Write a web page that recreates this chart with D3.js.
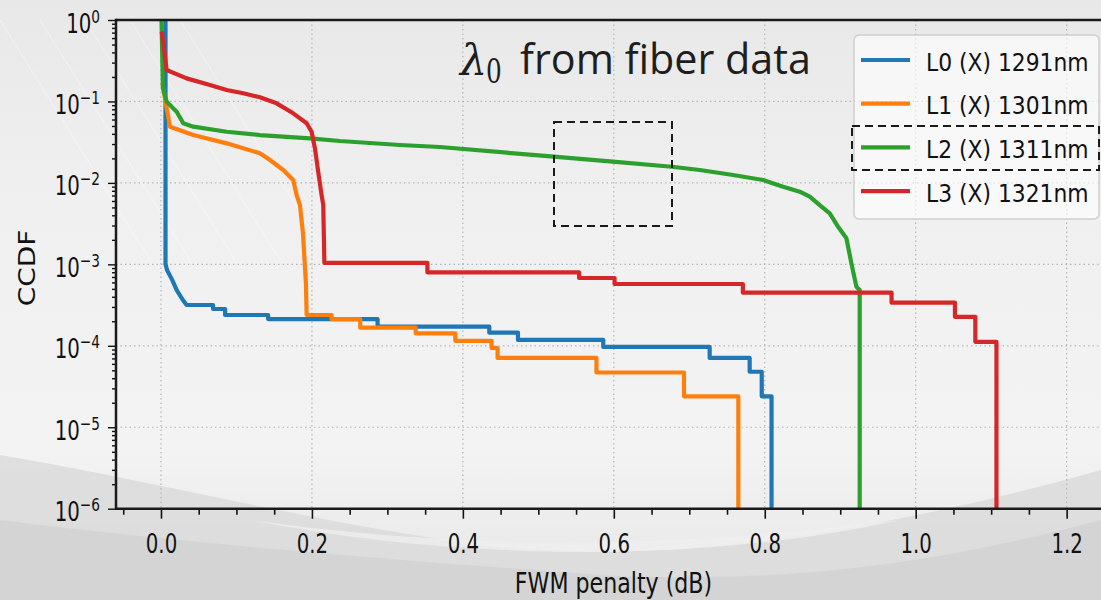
<!DOCTYPE html>
<html>
<head>
<meta charset="utf-8">
<script src="https://cdn.jsdelivr.net/npm/d3@7"></script>
<style>
  html, body { margin: 0; padding: 0; background: #ededed; }
  svg { display: block; }
</style>
</head>
<body>
<svg id="chart" width="1101" height="600"></svg>
<script>
// ---------------- DATA ----------------
const seriesNames = ["L0 (X) 1291nm", "L1 (X) 1301nm", "L2 (X) 1311nm", "L3 (X) 1321nm"];
const seriesColors = ["#1f77b4", "#ff7f0e", "#2ca02c", "#d62728"];

// L0 (blue)
const l0Penalty = [0.006, 0.006, 0.008, 0.015, 0.021, 0.029, 0.034, 0.069, 0.069, 0.085, 0.085, 0.142, 0.142, 0.287, 0.287, 0.435, 0.435, 0.473, 0.473, 0.586, 0.586, 0.727, 0.727, 0.780, 0.780, 0.796, 0.796, 0.809, 0.809];
const l0Ccdf    = [1, 1.01e-3, 8.5e-4, 6.4e-4, 4.8e-4, 3.65e-4, 3.17e-4, 3.17e-4, 2.83e-4, 2.83e-4, 2.39e-4, 2.39e-4, 2.13e-4, 2.13e-4, 1.72e-4, 1.72e-4, 1.45e-4, 1.45e-4, 1.18e-4, 1.18e-4, 9.7e-5, 9.7e-5, 7.1e-5, 7.1e-5, 4.8e-5, 4.8e-5, 2.4e-5, 2.4e-5, 1e-7];

// L1 (orange)
const l1Penalty = [0.002, 0.003, 0.0119, 0.0428, 0.087, 0.1311, 0.1444, 0.162, 0.1752, 0.1797, 0.1841, 0.1881, 0.192, 0.193, 0.226, 0.226, 0.264, 0.264, 0.3375, 0.3375, 0.390, 0.390, 0.438, 0.438, 0.446, 0.446, 0.577, 0.577, 0.693, 0.693, 0.765, 0.765];
const l1Ccdf    = [0.17, 0.145, 0.049, 0.0387, 0.0306, 0.0231, 0.0191, 0.0144, 0.01086, 0.0071, 0.00535, 0.00243, 0.00059, 2.39e-4, 2.39e-4, 2.13e-4, 2.13e-4, 1.67e-4, 1.67e-4, 1.42e-4, 1.42e-4, 1.15e-4, 1.15e-4, 9.4e-5, 9.4e-5, 7.1e-5, 7.1e-5, 4.7e-5, 4.7e-5, 2.4e-5, 2.4e-5, 1e-7];

// L2 (green)
const l2Penalty = [0.0007, 0.0026, 0.0075, 0.0208, 0.0295, 0.0428, 0.087, 0.131, 0.1974, 0.237, 0.3166, 0.3695, 0.5205, 0.5987, 0.6768, 0.7139, 0.758, 0.7977, 0.8243, 0.8464, 0.8596, 0.8728, 0.8861, 0.8971, 0.9082, 0.9148, 0.9214, 0.9258, 0.9258];
const l2Ccdf    = [1, 0.146, 0.0993, 0.0748, 0.054, 0.049, 0.0425, 0.0387, 0.0353, 0.0327, 0.0292, 0.0276, 0.021, 0.0182, 0.0158, 0.0144, 0.0125, 0.01086, 0.00898, 0.0078, 0.00677, 0.00535, 0.00423, 0.0029, 0.00209, 0.00103, 0.000532, 0.000484, 1e-7];

// L3 (red)
const l3Penalty = [0.001, 0.0075, 0.034, 0.0649, 0.087, 0.109, 0.1311, 0.1532, 0.1752, 0.193, 0.1996, 0.204, 0.2083, 0.2128, 0.215, 0.2165, 0.353, 0.353, 0.554, 0.554, 0.601, 0.601, 0.771, 0.771, 0.968, 0.968, 1.052, 1.052, 1.079, 1.079, 1.107, 1.107];
const l3Ccdf    = [0.72, 0.243, 0.192, 0.159, 0.138, 0.126, 0.1124, 0.0948, 0.0715, 0.054, 0.0425, 0.0266, 0.01373, 0.0071, 0.00535, 0.00104, 0.00104, 7.98e-4, 7.98e-4, 6.8e-4, 6.8e-4, 5.74e-4, 5.74e-4, 4.49e-4, 4.49e-4, 3.38e-4, 3.38e-4, 2.27e-4, 2.27e-4, 1.12e-4, 1.12e-4, 1e-7];

const xTickValues = [0.0, 0.2, 0.4, 0.6, 0.8, 1.0, 1.2];
const xTickLabels = ["0.0", "0.2", "0.4", "0.6", "0.8", "1.0", "1.2"];
const yTickValues = [1, 1e-1, 1e-2, 1e-3, 1e-4, 1e-5, 1e-6];
const yTickExponents = ["0", "\u22121", "\u22122", "\u22123", "\u22124", "\u22125", "\u22126"];

const xLabel = "FWM penalty (dB)";
const yLabel = "CCDF";
const titleMain = "from fiber data";

// ---------------- DRAWING ----------------
(function draw() {
const svg = d3.select("#chart");
const W = 1101, H = 600;
const pL = 116, pT = 20, pB = 508.7, pR = 1112;

const x = d3.scaleLinear().domain([-0.0596, 1.2601]).range([pL, pR]);
const y = d3.scaleLog().domain([1e-6, 1]).range([pB, pT]);

const defs = svg.append("defs");
const bgGrad = defs.append("linearGradient").attr("id", "bg").attr("x1", 0).attr("y1", 0).attr("x2", 0).attr("y2", 1);
bgGrad.append("stop").attr("offset", "0").attr("stop-color", "#e8e8e8");
bgGrad.append("stop").attr("offset", "0.35").attr("stop-color", "#f0f0f0");
bgGrad.append("stop").attr("offset", "0.75").attr("stop-color", "#f3f3f3");
bgGrad.append("stop").attr("offset", "1").attr("stop-color", "#e6e6e6");
defs.append("clipPath").attr("id", "plotclip").append("rect")
  .attr("x", pL).attr("y", pT).attr("width", W - pL).attr("height", pB - pT);

// background
svg.append("rect").attr("width", W).attr("height", H).attr("fill", "url(#bg)");
svg.append("path")
  .attr("d", "M0,455 C150,480 300,520 480,545 C650,565 850,540 1101,470 L1101,600 L0,600 Z")
  .attr("fill", "#d9d9d9").attr("opacity", 0.8);
svg.append("path")
  .attr("d", "M0,520 C200,545 400,560 600,575 C800,585 950,560 1101,520 L1101,600 L0,600 Z")
  .attr("fill", "#cfcfcf").attr("opacity", 0.6);
svg.append("path")
  .attr("d", "M250,520 C450,548 650,552 900,520 C700,565 450,560 250,520 Z")
  .attr("fill", "#efefef").attr("opacity", 0.8);
const streaks = svg.append("g").attr("stroke", "#ffffff").attr("stroke-width", 1.2).attr("opacity", 0.35);
[0, 40, 85, 130, 180].forEach(o => {
  streaks.append("line").attr("x1", o).attr("y1", 20).attr("x2", o + 150).attr("y2", 260);
});

// grid
const grid = svg.append("g").attr("stroke", "#b5b5b5").attr("stroke-width", 1.2).attr("stroke-dasharray", "1.5,3");
xTickValues.forEach(v => grid.append("line").attr("x1", x(v)).attr("x2", x(v)).attr("y1", pT).attr("y2", pB));
yTickValues.forEach(v => grid.append("line").attr("x1", pL).attr("x2", W).attr("y1", y(v)).attr("y2", y(v)));

// series
const allSeries = [
  { name: seriesNames[0], color: seriesColors[0], xs: l0Penalty, ys: l0Ccdf },
  { name: seriesNames[1], color: seriesColors[1], xs: l1Penalty, ys: l1Ccdf },
  { name: seriesNames[2], color: seriesColors[2], xs: l2Penalty, ys: l2Ccdf },
  { name: seriesNames[3], color: seriesColors[3], xs: l3Penalty, ys: l3Ccdf }
];
const line = d3.line().x(d => x(d[0])).y(d => y(d[1]));
const lines = svg.append("g").attr("clip-path", "url(#plotclip)");
allSeries.forEach(s => {
  lines.append("path")
    .datum(s.xs.map((v, i) => [v, s.ys[i]]))
    .attr("d", line)
    .attr("fill", "none")
    .attr("stroke", s.color)
    .attr("stroke-width", 4.2)
    .attr("stroke-linejoin", "round");
});

// axes (ticks)
const xMinor = d3.range(-0.05, 1.26, 0.05).filter(v => !xTickValues.some(t => Math.abs(t - v) < 1e-6));
const xAxisMinor = d3.axisBottom(x).tickValues(xMinor).tickSize(6).tickFormat("");
const xAxisMajor = d3.axisBottom(x).tickValues(xTickValues).tickSize(10).tickFormat((d, i) => xTickLabels[i]);
const gxm = svg.append("g").attr("transform", `translate(0,${pB})`).call(xAxisMinor);
const gx = svg.append("g").attr("transform", `translate(0,${pB})`).call(xAxisMajor);
[gxm, gx].forEach(g => {
  g.select(".domain").remove();
  g.selectAll(".tick line").attr("stroke", "#111").attr("stroke-width", 1.6);
});
gx.selectAll(".tick text")
  .attr("y", 44).attr("dy", null)
  .attr("transform", "scale(0.76,1)")
  .attr("font-family", "DejaVu Sans").attr("font-size", 26).attr("fill", "#111");

const yMinor = [];
for (let e = -6; e < 0; e++) for (let k = 2; k <= 9; k++) yMinor.push(k * Math.pow(10, e));
const yAxisMinor = d3.axisLeft(y).tickValues(yMinor).tickSize(4).tickFormat("");
const yAxisMajor = d3.axisLeft(y).tickValues(yTickValues).tickSize(8).tickFormat("");
const gym = svg.append("g").attr("transform", `translate(${pL},0)`).call(yAxisMinor);
const gy = svg.append("g").attr("transform", `translate(${pL},0)`).call(yAxisMajor);
[gym, gy].forEach(g => {
  g.select(".domain").remove();
  g.selectAll(".tick line").attr("stroke", "#111").attr("stroke-width", 1.4);
});
yTickValues.forEach((v, i) => {
  const t = svg.append("text")
    .attr("transform", `translate(100,${y(v) + 12.5}) scale(0.76,1)`)
    .attr("text-anchor", "end")
    .attr("font-family", "DejaVu Sans").attr("fill", "#111");
  t.append("tspan").attr("font-size", 26).text("10");
  t.append("tspan").attr("font-size", 18).attr("dy", -10).text(yTickExponents[i]);
});

// spines
const spines = svg.append("g").attr("stroke", "#1a1a1a").attr("stroke-width", 2.5).attr("fill", "none");
spines.append("line").attr("x1", pL).attr("x2", W).attr("y1", pT).attr("y2", pT);
spines.append("line").attr("x1", pL).attr("x2", W).attr("y1", pB).attr("y2", pB);
spines.append("line").attr("x1", pL).attr("x2", pL).attr("y1", pT - 1.2).attr("y2", pB + 1.2);

// axis labels
svg.append("text")
  .attr("transform", `translate(613.5,592.5) scale(0.79,1)`)
  .attr("text-anchor", "middle")
  .attr("font-family", "DejaVu Sans").attr("font-size", 28).attr("fill", "#111")
  .text(xLabel);
svg.append("text")
  .attr("transform", `translate(35,268) rotate(-90) scale(1,0.8)`)
  .attr("text-anchor", "middle")
  .attr("font-family", "DejaVu Sans").attr("font-size", 28).attr("fill", "#111")
  .text(yLabel);

// legend
const lg = svg.append("g");
lg.append("rect")
  .attr("x", 854).attr("y", 35).attr("width", 245).attr("height", 184)
  .attr("rx", 5).attr("ry", 5)
  .attr("fill", "#ffffff").attr("fill-opacity", 0.6)
  .attr("stroke", "#cfcfcf").attr("stroke-width", 1.5);
allSeries.forEach((s, i) => {
  const cy = 60 + i * 43.7;
  lg.append("line").attr("x1", 861).attr("x2", 910).attr("y1", cy).attr("y2", cy)
    .attr("stroke", s.color).attr("stroke-width", 4.2);
  lg.append("text")
    .attr("transform", `translate(926,${cy + 10.7}) scale(0.91,1)`)
    .attr("font-family", "DejaVu Sans").attr("font-size", 24).attr("fill", "#111")
    .text(s.name);
});

// dashed highlight boxes
svg.append("rect").attr("x", 554).attr("y", 122).attr("width", 118).attr("height", 104)
  .attr("fill", "none").attr("stroke", "#1a1a1a").attr("stroke-width", 2).attr("stroke-dasharray", "8,5");
svg.append("rect").attr("x", 852).attr("y", 126).attr("width", 247).attr("height", 44)
  .attr("fill", "none").attr("stroke", "#1a1a1a").attr("stroke-width", 2).attr("stroke-dasharray", "8,5");

// title overlay
const title = svg.append("g").attr("fill", "#1e1e1e");
title.append("text").attr("x", 460).attr("y", 74.5)
  .attr("font-family", "DejaVu Serif").attr("font-style", "italic").attr("font-size", 43)
  .text("\u03bb");
title.append("text")
  .attr("transform", "translate(486,83) scale(0.75,1)")
  .attr("font-family", "DejaVu Serif").attr("font-size", 33)
  .text("0");
title.append("text").attr("x", 520).attr("y", 74.3)
  .attr("font-family", "Open Sans").attr("font-size", 42)
  .attr("textLength", 291).attr("lengthAdjust", "spacingAndGlyphs")
  .text(titleMain);
})();
</script>
</body>
</html>
